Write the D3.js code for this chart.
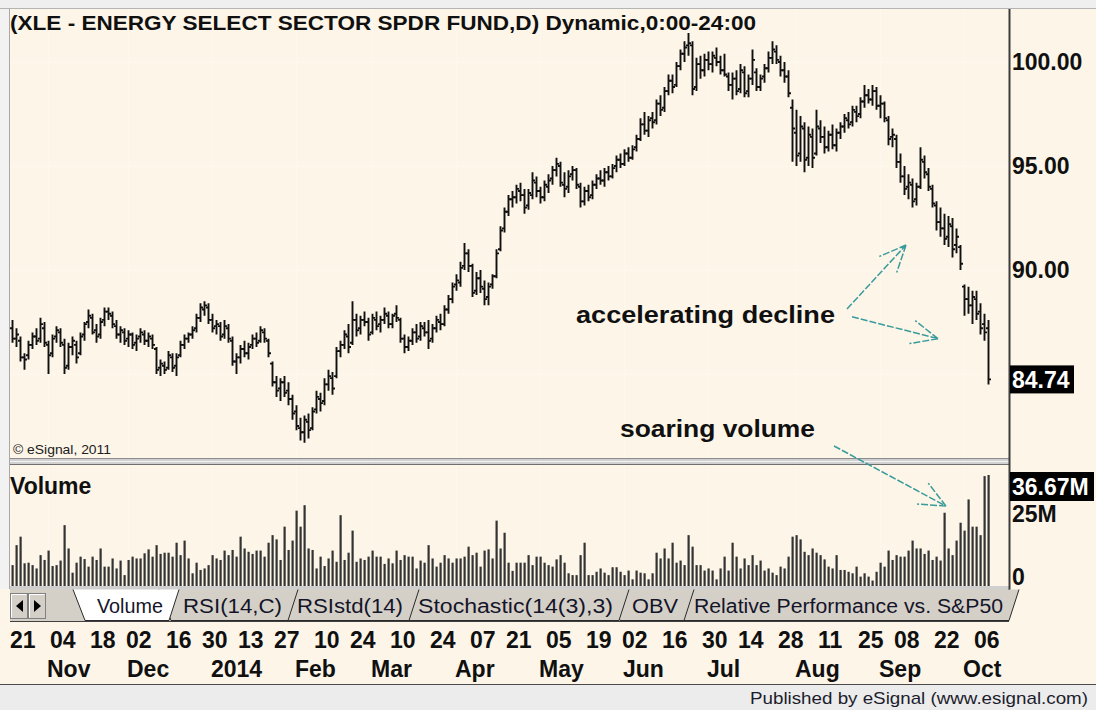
<!DOCTYPE html>
<html>
<head>
<meta charset="utf-8">
<script src="https://cdn.jsdelivr.net/npm/d3@7"></script>
<style>
  html, body { margin: 0; padding: 0; background: #fff; }
  svg { display: block; font-family: "Liberation Sans", Arial, sans-serif; }
</style>
</head>
<body>
<svg id="chart" width="1096" height="710"></svg>
<script>

// daily bars, XLE, 21 Oct 2013 .. 9 Oct 2014
const opens = [
    87.2, 86.7, 86.6, 85.8, 85.9, 86.4, 86.8, 86.7, 87.2, 86.4,
    86.0, 86.8, 87.0, 86.4, 85.4, 86.3, 86.4, 86.0, 86.9, 87.5,
    87.7, 87.1, 86.9, 87.6, 88.0, 87.8, 87.3, 86.9, 87.0, 86.7,
    86.9, 86.5, 86.8, 86.9, 86.6, 86.7, 86.2, 85.3, 85.4, 85.3,
    85.8, 85.4, 85.9, 86.4, 86.7, 86.9, 87.2, 87.7, 88.1, 88.2,
    87.6, 87.3, 87.3, 86.9, 87.2, 86.6, 85.6, 85.8, 86.2, 86.0,
    86.4, 86.7, 86.6, 87.0, 86.6, 85.5, 84.6, 84.3, 84.6, 84.2,
    83.8, 83.2, 82.4, 82.2, 82.7, 82.4, 83.3, 83.8, 83.7, 84.5,
    84.8, 84.9, 86.1, 86.4, 86.8, 86.5, 87.6, 87.2, 87.6, 87.5,
    87.0, 87.6, 87.4, 87.6, 87.8, 87.4, 87.9, 87.6, 86.7, 86.3,
    86.6, 87.0, 86.8, 87.2, 87.0, 86.7, 87.2, 87.5, 87.4, 88.1,
    88.6, 89.3, 89.4, 90.2, 90.8, 90.2, 89.0, 89.6, 89.1, 88.7,
    89.3, 89.7, 91.0, 92.0, 92.8, 93.4, 93.5, 93.8, 93.6, 93.1,
    93.6, 94.2, 93.8, 93.5, 94.0, 94.4, 94.8, 95.0, 94.1, 94.0,
    94.6, 94.8, 94.0, 93.3, 93.8, 93.6, 94.1, 94.4, 94.3, 94.7,
    94.5, 95.0, 95.3, 95.1, 95.6, 95.4, 95.9, 96.3, 97.0, 96.7,
    97.3, 97.2, 98.0, 97.8, 98.6, 99.1, 98.9, 99.8, 100.4, 100.8,
    100.8, 98.8, 99.9, 99.6, 100.1, 99.9, 100.2, 100.0, 99.6, 99.3,
    98.9, 99.2, 98.7, 99.5, 98.6, 99.2, 99.5, 98.8, 99.3, 99.7,
    100.2, 100.5, 100.0, 99.6, 99.3, 97.8, 96.6, 95.6, 96.8, 95.4,
    96.4, 95.6, 96.8, 96.4, 95.9, 96.5, 96.0, 96.6, 96.9, 97.2,
    97.1, 97.6, 97.5, 98.1, 98.4, 98.2, 98.6, 97.9, 98.0, 97.2,
    96.4, 96.3, 95.2, 94.5, 94.0, 94.1, 93.4, 94.0, 95.2, 94.6,
    93.9, 93.1, 92.3, 92.0, 91.6, 92.1, 91.2, 91.1, 89.2, 88.6,
    88.3, 88.6, 88.0, 87.4, 87.2
];
const highs = [
    87.6, 87.2, 86.8, 86.0, 86.6, 87.0, 87.2, 87.7, 87.5, 86.6,
    86.9, 87.3, 87.2, 86.7, 86.5, 86.8, 86.6, 87.0, 87.5, 88.1,
    87.9, 87.4, 87.7, 88.2, 88.2, 88.0, 87.6, 87.3, 87.2, 87.1,
    87.0, 86.9, 87.2, 87.1, 87.0, 86.9, 86.3, 85.7, 85.6, 86.1,
    86.0, 86.0, 86.6, 86.9, 87.0, 87.3, 87.9, 88.4, 88.5, 88.4,
    87.9, 87.6, 87.5, 87.6, 87.4, 86.8, 86.0, 86.4, 86.6, 86.5,
    86.9, 87.0, 87.3, 87.2, 86.7, 85.6, 84.9, 84.8, 84.9, 84.6,
    84.0, 83.5, 82.9, 83.0, 83.1, 83.4, 84.2, 84.1, 84.8, 85.2,
    85.1, 86.3, 86.6, 87.1, 87.4, 88.5, 87.9, 87.8, 88.0, 87.7,
    87.9, 88.0, 87.8, 88.2, 88.0, 87.9, 88.3, 87.7, 86.9, 86.8,
    87.2, 87.4, 87.5, 87.5, 87.6, 87.4, 87.8, 87.9, 88.3, 88.8,
    89.4, 89.8, 90.4, 91.3, 91.0, 90.3, 89.9, 90.0, 89.5, 89.4,
    89.8, 91.0, 92.1, 93.0, 93.6, 93.8, 94.1, 94.2, 93.9, 93.9,
    94.7, 94.5, 94.0, 94.3, 94.6, 95.0, 95.4, 95.2, 94.7, 94.8,
    95.0, 94.9, 94.2, 94.0, 94.1, 94.3, 94.6, 94.8, 94.9, 95.0,
    95.1, 95.5, 95.6, 95.8, 95.9, 96.0, 96.5, 97.3, 97.6, 97.4,
    97.6, 98.2, 98.4, 98.8, 99.4, 99.4, 100.0, 100.6, 101.0, 101.4,
    101.0, 100.2, 100.3, 100.4, 100.5, 100.5, 100.7, 100.3, 100.4, 99.5,
    99.5, 99.6, 99.9, 99.8, 99.4, 100.6, 99.7, 99.4, 99.9, 100.5,
    101.0, 100.8, 100.3, 100.0, 99.6, 98.2, 97.7, 97.4, 97.1, 96.9,
    96.8, 97.7, 97.2, 96.9, 96.7, 97.0, 96.8, 97.1, 97.5, 97.6,
    97.9, 97.9, 98.3, 98.9, 98.7, 98.9, 98.8, 98.4, 98.1, 97.4,
    96.8, 96.5, 95.6, 95.0, 94.6, 94.4, 94.2, 95.9, 95.5, 94.9,
    94.1, 93.3, 93.0, 92.7, 92.6, 92.5, 92.0, 91.2, 89.3, 89.2,
    89.0, 89.0, 88.4, 87.9, 87.6
];
const lows = [
    86.5, 86.3, 85.6, 85.2, 85.7, 86.2, 86.4, 86.5, 86.3, 85.0,
    85.8, 86.5, 86.3, 85.0, 85.2, 85.9, 85.5, 85.9, 86.6, 87.2,
    86.9, 86.5, 86.7, 87.3, 87.6, 87.2, 86.7, 86.5, 86.4, 86.3,
    86.2, 86.1, 86.5, 86.4, 86.3, 86.2, 85.0, 84.9, 85.0, 85.2,
    85.1, 84.9, 85.8, 86.2, 86.5, 86.7, 87.0, 87.5, 87.8, 87.4,
    87.0, 86.9, 86.6, 86.7, 86.5, 85.4, 85.0, 85.5, 85.8, 85.7,
    86.2, 86.3, 86.5, 86.5, 85.8, 84.4, 83.9, 83.7, 83.9, 83.5,
    82.8, 82.3, 81.8, 81.7, 81.9, 82.3, 83.1, 83.2, 83.5, 84.2,
    84.0, 84.8, 85.8, 86.2, 86.0, 86.4, 86.8, 86.9, 87.3, 86.6,
    86.9, 87.1, 87.0, 87.4, 87.2, 87.2, 87.5, 86.5, 86.0, 86.1,
    86.4, 86.5, 86.6, 86.8, 86.2, 86.5, 87.0, 87.1, 87.3, 87.9,
    88.4, 89.0, 89.2, 90.0, 89.9, 88.7, 88.8, 88.9, 88.3, 88.3,
    89.1, 89.6, 90.9, 91.8, 92.6, 93.0, 93.2, 93.3, 92.7, 92.9,
    93.4, 93.5, 93.2, 93.3, 93.7, 94.1, 94.5, 94.0, 93.5, 93.7,
    94.3, 93.9, 93.0, 93.1, 93.3, 93.4, 93.9, 94.1, 94.0, 94.3,
    94.4, 94.7, 94.9, 95.0, 95.2, 95.3, 95.7, 96.2, 96.5, 96.4,
    96.8, 97.0, 97.4, 97.6, 98.4, 98.5, 98.8, 99.6, 100.0, 100.3,
    98.4, 98.6, 99.2, 99.3, 99.6, 99.5, 99.8, 99.4, 99.3, 98.6,
    98.2, 98.4, 98.5, 98.3, 98.3, 98.9, 98.6, 98.6, 99.0, 99.5,
    99.9, 99.9, 99.3, 99.0, 98.3, 95.2, 95.0, 95.2, 94.7, 95.0,
    94.9, 95.5, 96.1, 95.6, 95.7, 95.8, 95.7, 96.3, 96.6, 96.8,
    96.9, 97.1, 97.3, 97.8, 98.0, 97.9, 97.7, 97.3, 97.1, 96.0,
    95.9, 94.9, 94.2, 93.6, 93.4, 93.0, 93.1, 93.9, 94.4, 93.8,
    93.0, 91.9, 91.6, 91.2, 91.1, 90.6, 90.8, 90.0, 87.8, 87.9,
    87.4, 87.6, 86.9, 86.6, 84.5
];
const closes = [
    86.7, 86.9, 85.8, 85.7, 86.4, 86.8, 86.6, 87.4, 86.5, 85.9,
    86.7, 87.1, 86.5, 85.3, 86.3, 86.6, 85.8, 86.8, 87.4, 87.8,
    87.0, 86.8, 87.5, 88.0, 87.9, 87.4, 86.9, 87.1, 86.6, 86.9,
    86.4, 86.7, 87.0, 86.6, 86.8, 86.4, 85.2, 85.5, 85.2, 85.9,
    85.3, 85.8, 86.4, 86.7, 86.9, 87.1, 87.7, 88.2, 88.3, 87.6,
    87.2, 87.4, 86.8, 87.3, 86.7, 85.6, 85.8, 86.2, 86.0, 86.3,
    86.7, 86.5, 87.1, 86.7, 86.0, 84.6, 84.2, 84.6, 84.1, 83.8,
    83.1, 82.5, 82.2, 82.8, 82.3, 83.2, 83.9, 83.6, 84.5, 84.9,
    84.3, 86.1, 86.4, 86.9, 86.3, 87.6, 87.1, 87.6, 87.5, 86.9,
    87.7, 87.3, 87.6, 87.9, 87.4, 87.8, 87.7, 86.7, 86.3, 86.6,
    87.0, 86.7, 87.3, 87.0, 86.6, 87.2, 87.6, 87.4, 88.1, 88.6,
    89.2, 89.5, 90.1, 90.8, 90.2, 88.9, 89.6, 89.2, 88.6, 89.2,
    89.7, 90.8, 91.9, 92.8, 93.4, 93.5, 93.9, 93.6, 93.0, 93.7,
    94.3, 93.8, 93.5, 94.1, 94.3, 94.8, 95.1, 94.2, 93.9, 94.5,
    94.8, 94.1, 93.3, 93.8, 93.5, 94.1, 94.4, 94.3, 94.7, 94.5,
    94.9, 95.3, 95.1, 95.6, 95.4, 95.8, 96.3, 97.0, 96.7, 97.2,
    97.1, 98.0, 97.7, 98.6, 99.1, 98.8, 99.8, 100.4, 100.7, 100.9,
    98.7, 99.9, 99.6, 100.1, 99.9, 100.3, 100.0, 99.6, 99.4, 98.9,
    99.2, 98.6, 99.6, 98.5, 99.2, 100.1, 98.8, 99.2, 99.7, 100.2,
    100.6, 100.1, 99.6, 99.3, 98.5, 96.8, 95.5, 96.9, 95.3, 96.5,
    95.4, 96.9, 96.4, 95.9, 96.5, 96.0, 96.6, 96.9, 97.3, 97.0,
    97.7, 97.4, 98.1, 98.4, 98.2, 98.6, 97.9, 98.0, 97.3, 96.3,
    96.5, 95.2, 94.5, 93.9, 94.2, 93.3, 94.0, 95.3, 94.7, 94.0,
    93.2, 92.3, 92.0, 91.5, 92.2, 91.0, 91.6, 90.3, 88.6, 88.3,
    88.7, 87.9, 87.2, 87.0, 84.74
];
// volume in millions
const volumes = [
    6.9, 13.5, 16.3, 7.5, 7.7, 6.9, 5.8, 10.2, 8.6, 11.7,
    6.6, 6.9, 8.4, 20.1, 12.4, 4.4, 7.7, 9.7, 8.9, 6.4,
    9.7, 8.6, 12.4, 6.4, 6.4, 9.1, 5.8, 8.4, 3.6, 8.6,
    9.7, 9.1, 9.1, 10.8, 12.1, 9.7, 13.5, 10.6, 11.0, 11.0,
    9.7, 14.3, 10.2, 15.0, 9.1, 4.2, 7.7, 5.3, 5.8, 6.9,
    10.2, 9.1, 8.6, 11.7, 10.2, 11.9, 9.7, 16.3, 12.4, 11.3,
    10.6, 11.7, 11.7, 9.7, 14.3, 16.8, 15.4, 8.6, 19.6, 11.9,
    15.0, 24.9, 19.6, 26.7, 12.4, 11.9, 5.8, 9.7, 6.6, 9.1,
    11.7, 8.0, 23.4, 8.6, 11.0, 18.3, 8.0, 9.1, 8.6, 9.7,
    11.7, 9.7, 9.7, 7.3, 9.1, 7.5, 11.7,
    8.6, 10.2, 9.7, 9.7, 5.8, 8.4, 7.7, 13.5, 9.1, 6.4,
    7.7, 10.2, 9.1, 7.7, 9.1, 9.1, 9.7, 13.0, 10.2, 11.0,
    6.4, 11.7, 12.1, 9.1, 21.6, 12.4, 17.6, 7.7, 5.0, 7.7,
    7.7, 7.7, 10.2, 6.9, 9.7, 9.7, 7.7, 6.9, 6.4, 8.8,
    10.2, 7.7, 4.2, 3.6, 3.6, 10.2, 14.3, 3.6, 3.6, 4.7,
    5.8, 4.4, 3.6, 6.2, 6.2, 4.7, 3.6, 5.1, 2.2, 5.1,
    4.4, 4.2, 2.2, 4.2, 11.0, 9.1, 12.4, 9.1, 14.3, 7.7,
    8.4, 6.9, 16.8, 13.0, 6.9, 6.9, 5.1, 5.8, 5.1, 2.2,
    5.8, 9.7, 5.1, 14.3, 9.7, 5.8, 9.1, 6.9, 10.2, 6.9,
    8.4, 5.1, 5.8, 4.4, 3.6, 6.4, 5.8, 9.7, 16.3, 16.8,
    15.4, 11.3, 10.2, 12.4, 11.0, 10.2, 8.8, 6.4, 5.8, 10.2,
    5.3, 5.3, 4.7, 4.2, 6.4, 3.1, 4.2, 3.1, 1.8, 4.7,
    7.7, 6.4, 11.7, 8.6, 10.2, 9.7, 9.7, 11.7, 15.0, 12.4,
    12.4, 10.6, 11.7, 8.6, 9.7, 8.4, 24.2, 12.4, 10.2, 15.0,
    20.9, 18.3, 28.6, 19.6, 19.6, 16.8, 36.3, 36.67
];

const firstDay = "2013-10-21";
const holidays = ["2013-11-28", "2013-12-25", "2014-01-01", "2014-01-20", "2014-02-17",
    "2014-04-18", "2014-05-26", "2014-07-04", "2014-09-01"];

const dayTicks = ["2013-10-21", "2013-11-04", "2013-11-18", "2013-12-02", "2013-12-16", "2013-12-30",
    "2014-01-13", "2014-01-27", "2014-02-10", "2014-02-24", "2014-03-10", "2014-03-24", "2014-04-07",
    "2014-04-21", "2014-05-05", "2014-05-19", "2014-06-02", "2014-06-16", "2014-06-30", "2014-07-14",
    "2014-07-28", "2014-08-11", "2014-08-25", "2014-09-08", "2014-09-22", "2014-10-06"];
const monthTicks = ["2013-11-01", "2013-12-02", "2014-01-02", "2014-02-03", "2014-03-03", "2014-04-01",
    "2014-05-01", "2014-06-02", "2014-07-01", "2014-08-01", "2014-09-02", "2014-10-01"];
const monthLabels = ["Nov", "Dec", "2014", "Feb", "Mar", "Apr", "May", "Jun", "Jul", "Aug", "Sep", "Oct"];

const priceTicks = [100, 95, 90];
const priceGrid = [100, 95, 90, 85];
const volumeTicks = [25, 0];
const lastPrice = 84.74;
const lastVolume = 36.67;

const tabNames = ["Volume", "RSI(14,C)", "RSIstd(14)", "Stochastic(14(3),3)", "OBV", "Relative Performance vs. S&P50"];
const tabSpans = [[97, 163], [183, 282], [297, 403], [418, 613], [632, 678], [694, 1003]];

// trading days
const fmt = d3.utcFormat("%Y-%m-%d");
const dates = [];
let day = new Date(firstDay + "T00:00:00Z");
while (dates.length < closes.length) {
    const wd = day.getUTCDay();
    const s = fmt(day);
    if (wd !== 0 && wd !== 6 && !holidays.includes(s)) dates.push(s);
    day = d3.utcDay.offset(day, 1);
}

const W = 1096, H = 710;
const plotLeft = 10, plotRight = 1009;
const priceTop = 9, priceBottom = 458;
const volTop = 466, volBottom = 586;
const cream = "#fcf5e8";
const teal = "#3a9b9b";

const svg = d3.select("#chart");

const x = d3.scalePoint().domain(dates).range([12, 988]);
const y = d3.scaleLinear().domain([85, 100]).range([374, 62]);
const yv = d3.scaleLinear().domain([0, lastVolume]).range([volBottom, 475]);

// backgrounds
svg.append("rect").attr("width", W).attr("height", H).attr("fill", cream);
svg.append("rect").attr("width", W).attr("height", 8).attr("fill", "#efefef");
svg.append("line").attr("x1", 0).attr("x2", W).attr("y1", 8.5).attr("y2", 8.5).attr("stroke", "#b4b4b4");
svg.append("rect").attr("x", 0).attr("y", 9).attr("width", 9).attr("height", 580).attr("fill", "#f2f2f2");
svg.append("line").attr("x1", 9.5).attr("x2", 9.5).attr("y1", 9).attr("y2", 589).attr("stroke", "#a8a8a8");

// grid
const grid = svg.append("g")
    .attr("stroke", "#ffffff")
    .attr("stroke-width", 1)
    .attr("stroke-dasharray", "1,3");

grid.selectAll("line.h")
    .data(priceGrid)
    .join("line")
    .attr("class", "h")
    .attr("x1", plotLeft)
    .attr("x2", plotRight - 2)
    .attr("y1", d => Math.round(y(d)) + 0.5)
    .attr("y2", d => Math.round(y(d)) + 0.5);

grid.selectAll("line.vp")
    .data(monthTicks)
    .join("line")
    .attr("class", "vp")
    .attr("x1", d => x(d) + 0.5)
    .attr("x2", d => x(d) + 0.5)
    .attr("y1", priceTop)
    .attr("y2", priceBottom);

grid.selectAll("line.vv")
    .data(monthTicks)
    .join("line")
    .attr("class", "vv")
    .attr("x1", d => x(d) + 0.5)
    .attr("x2", d => x(d) + 0.5)
    .attr("y1", volTop)
    .attr("y2", volBottom);

// price bars
svg.append("g")
    .attr("stroke", "#101010")
    .attr("stroke-width", 1.9)
    .attr("fill", "none")
    .selectAll("path")
    .data(dates)
    .join("path")
    .attr("d", (d, i) => {
        const cx = x(d) + 0.5;
        return `M${cx},${y(highs[i])}V${y(lows[i])}` +
            `M${cx - 2.5},${y(opens[i])}H${cx}` +
            `M${cx},${y(closes[i])}H${cx + 2.5}`;
    });

// volume bars
svg.append("g")
    .attr("fill", "#333333")
    .selectAll("rect")
    .data(dates)
    .join("rect")
    .attr("x", d => x(d) - 0.5)
    .attr("width", 2.2)
    .attr("y", (d, i) => yv(volumes[i]))
    .attr("height", (d, i) => volBottom - yv(volumes[i]));

// separators between panels
svg.append("rect").attr("x", 10).attr("y", priceBottom).attr("width", plotRight - 10).attr("height", 7).attr("fill", "#d0d0d0");
svg.append("line").attr("x1", 10).attr("x2", plotRight).attr("y1", priceBottom + 0.5).attr("y2", priceBottom + 0.5).attr("stroke", "#8c8c8c");
svg.append("line").attr("x1", 10).attr("x2", plotRight).attr("y1", priceBottom + 3.5).attr("y2", priceBottom + 3.5).attr("stroke", "#f4f4f4");
svg.append("line").attr("x1", 10).attr("x2", plotRight).attr("y1", priceBottom + 6.5).attr("y2", priceBottom + 6.5).attr("stroke", "#6e6e6e");

svg.append("rect").attr("x", 10).attr("y", volBottom).attr("width", plotRight - 10).attr("height", 3).attr("fill", "#cfcfcf");

// right axis line
svg.append("line")
    .attr("x1", plotRight + 0.5).attr("x2", plotRight + 0.5)
    .attr("y1", priceTop).attr("y2", 590)
    .attr("stroke", "#3c3c3c").attr("stroke-width", 2);

// price labels
const bold = g => g.attr("font-weight", "bold").attr("fill", "#101010");

svg.append("g").call(bold)
    .attr("font-size", 23)
    .selectAll("text")
    .data(priceTicks)
    .join("text")
    .attr("x", 1012)
    .attr("y", d => y(d))
    .attr("dy", "0.36em")
    .text(d => d.toFixed(2));

const tagP = svg.append("g");
tagP.append("rect").attr("x", 1010).attr("y", y(lastPrice) - 14).attr("width", 64).attr("height", 28).attr("fill", "#000");
tagP.append("text").attr("x", 1012).attr("y", y(lastPrice)).attr("dy", "0.36em")
    .attr("font-size", 23).attr("font-weight", "bold").attr("fill", "#fff").text(lastPrice.toFixed(2));

// volume labels
svg.append("g").call(bold)
    .attr("font-size", 23)
    .selectAll("text")
    .data(volumeTicks)
    .join("text")
    .attr("x", 1012)
    .attr("y", d => Math.min(yv(d) + 3, volBottom - 9))
    .attr("dy", "0.36em")
    .text(d => d === 0 ? "0" : d + "M");

const tagV = svg.append("g");
tagV.append("rect").attr("x", 1010).attr("y", 472).attr("width", 84).attr("height", 29).attr("fill", "#000");
tagV.append("text").attr("x", 1012).attr("y", 486.5).attr("dy", "0.36em")
    .attr("font-size", 23).attr("font-weight", "bold").attr("fill", "#fff").text(lastVolume.toFixed(2) + "M");

// titles
svg.append("text").call(bold)
    .attr("x", 10).attr("y", 30)
    .attr("font-size", 21)
    .attr("textLength", 746).attr("lengthAdjust", "spacingAndGlyphs")
    .text("(XLE - ENERGY SELECT SECTOR SPDR FUND,D) Dynamic,0:00-24:00");

svg.append("text").call(bold)
    .attr("x", 10).attr("y", 494)
    .attr("font-size", 23)
    .text("Volume");

svg.append("text")
    .attr("x", 13).attr("y", 454)
    .attr("font-size", 13).attr("fill", "#202020")
    .attr("textLength", 98).attr("lengthAdjust", "spacingAndGlyphs")
    .text("\u00a9 eSignal, 2011");

// tabs strip
const tabs = svg.append("g");
tabs.append("rect").attr("x", 10).attr("y", 589).attr("width", plotRight - 10).attr("height", 33).attr("fill", "#d4d0c8");
tabs.append("line").attr("x1", 10).attr("x2", plotRight).attr("y1", 621.5).attr("y2", 621.5).attr("stroke", "#404040");
tabs.append("line").attr("x1", plotRight - 0.5).attr("x2", plotRight - 0.5).attr("y1", 589).attr("y2", 622).attr("stroke", "#404040");

[[10, "M16,606 L23,600 L23,612 Z"], [28, "M34,600 L41,606 L34,612 Z"]].forEach(([bx, tri]) => {
    tabs.append("rect").attr("x", bx + 0.5).attr("y", 593.5).attr("width", 17).attr("height", 25)
        .attr("fill", "#d4d0c8").attr("stroke", "#808080");
    tabs.append("path").attr("d", `M${bx + 1.5},617.5V594.5H${bx + 16.5}`).attr("fill", "none").attr("stroke", "#fff");
    tabs.append("path").attr("d", tri).attr("fill", "#000");
});

const tabShape = ([a, b]) => `M${a - 24},589.5 L${a - 12},620.5 L${b + 6},620.5 L${b + 16},589.5`;

tabs.selectAll("path.tab")
    .data(tabSpans.slice(1).reverse())
    .join("path")
    .attr("class", "tab")
    .attr("d", tabShape)
    .attr("fill", "#d4d0c8")
    .attr("stroke", "#2a2a2a")
    .attr("stroke-width", 1);

tabs.append("path")
    .attr("d", tabShape(tabSpans[0]))
    .attr("fill", "#ffffff")
    .attr("stroke", "#2a2a2a");

tabs.selectAll("text")
    .data(tabNames)
    .join("text")
    .attr("x", (d, i) => tabSpans[i][0])
    .attr("y", 613)
    .attr("font-size", 20)
    .attr("fill", "#15152a")
    .attr("textLength", (d, i) => tabSpans[i][1] - tabSpans[i][0])
    .attr("lengthAdjust", "spacingAndGlyphs")
    .text(d => d);

// date axis
svg.append("g").call(bold)
    .attr("font-size", 23)
    .selectAll("text")
    .data(dayTicks)
    .join("text")
    .attr("x", d => x(d) - 2)
    .attr("y", 648)
    .text(d => d.slice(8));

svg.append("g").call(bold)
    .attr("font-size", 23)
    .selectAll("text")
    .data(monthTicks)
    .join("text")
    .attr("x", d => x(d) - 1)
    .attr("y", 677)
    .text((d, i) => monthLabels[i]);

// footer
svg.append("line").attr("x1", 0).attr("x2", W).attr("y1", 684.5).attr("y2", 684.5).attr("stroke", "#4a4a4a");
svg.append("rect").attr("x", 0).attr("y", 685).attr("width", W).attr("height", 25).attr("fill", "#ececec");
svg.append("text")
    .attr("x", 750).attr("y", 704)
    .attr("font-size", 17).attr("fill", "#1c1c2c")
    .attr("textLength", 338).attr("lengthAdjust", "spacingAndGlyphs")
    .text("Published by eSignal (www.esignal.com)");

// annotations
const annotations = [
    { text: "accelerating decline", at: dates[141], price: 87.45, len: 259 },
    { text: "soaring volume", at: dates[152], price: 81.97, len: 195 }
];
svg.append("g").call(bold)
    .attr("font-size", 23)
    .selectAll("text")
    .data(annotations)
    .join("text")
    .attr("x", d => x(d.at))
    .attr("y", d => y(d.price))
    .attr("textLength", d => d.len)
    .attr("lengthAdjust", "spacingAndGlyphs")
    .text(d => d.text);

const arrows = [
    { from: [x(dates[209]) - 1, y(88.13)], to: [x(dates[223]) + 2, y(91.2)] },
    { from: [x(dates[210]), y(87.75)], to: [x(dates[231]) + 2, y(86.7)] },
    { from: [x(dates[205]) + 2, y(81.54)], to: [x(dates[233]) + 2, yv(26.4)] }
];

const arrowG = svg.append("g")
    .attr("stroke", teal)
    .attr("stroke-width", 1.5)
    .attr("stroke-dasharray", "7,2")
    .attr("fill", "none");

arrows.forEach(a => {
    const [x1, y1] = a.from, [x2, y2] = a.to;
    const ang = Math.atan2(y1 - y2, x1 - x2);
    const len = 29, spread = 0.42;
    arrowG.append("path")
        .attr("d", `M${x1},${y1}L${x2},${y2}` +
            `M${x2},${y2}L${x2 + len * Math.cos(ang + spread)},${y2 + len * Math.sin(ang + spread)}` +
            `M${x2},${y2}L${x2 + len * Math.cos(ang - spread)},${y2 + len * Math.sin(ang - spread)}`);
});

</script>
</body>
</html>
